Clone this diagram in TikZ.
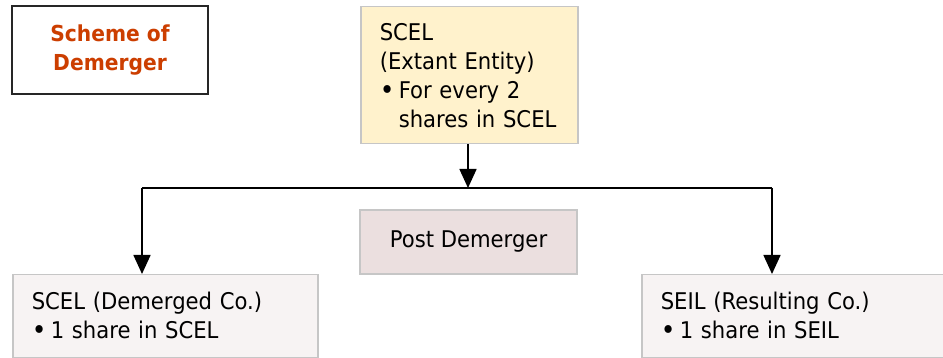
\documentclass[tikz,border=0pt]{standalone}
\usepackage{fontspec}
\setmainfont{DejaVu Sans}[FakeStretch=0.92]
\usepackage{tikz}
\usetikzlibrary{arrows.meta}
\usetikzlibrary{positioning}
\definecolor{schemered}{HTML}{CC3E00}
\definecolor{extantfill}{HTML}{FFF2CC}
\definecolor{postfill}{HTML}{EBDFDF}
\definecolor{cofill}{HTML}{F7F3F3}
\definecolor{boxline}{HTML}{C6C6C6}
\tikzstyle{cobox} = [rectangle, draw=boxline, line width=1.5pt,
    anchor=north west, align=left, inner xsep=19pt]
\tikzset{>={Triangle[length=19pt,width=17pt]}}
\newcommand{\bul}{\makebox[19pt][l]{\raisebox{-1pt}{\fontsize{27}{27}\selectfont\textbullet}}}

\begin{document}
\begin{tikzpicture}[x=1pt,y=-1pt,font=\fontsize{23}{29}\selectfont]
\useasboundingbox (0,0) rectangle (943,358);
\begin{scope}
    %title
    \node[rectangle, draw=black!85, line width=1.8pt, fill=white,
        minimum width=196pt, minimum height=88pt, align=center,
        text=schemered, font=\fontsize{22}{29}\selectfont\bfseries]
        (scheme) at (110,50) {Scheme of\\Demerger};
    %boxes
    \node[cobox, fill=extantfill, minimum width=217pt, minimum height=137pt,
        text width=179pt] (extant) at (360,6)
        {SCEL\\(Extant Entity)\\\bul For every 2\\\hspace*{19pt}shares in SCEL};
    \node[rectangle, draw=boxline, line width=1.5pt, fill=postfill,
        minimum width=217pt, minimum height=64pt]
        (post) at (468.5,242) {Post Demerger};
    \node[cobox, fill=cofill, minimum width=305pt, minimum height=83pt,
        text width=267pt] (demerged) at (12,274)
        {SCEL (Demerged Co.)\\\bul 1 share in SCEL};
    \node[cobox, fill=cofill, minimum width=305pt, minimum height=83pt,
        text width=267pt] (resulting) at (641,274)
        {SEIL (Resulting Co.)\\\bul 1 share in SEIL};
    %lines
    \coordinate (split) at (468,188);
    \coordinate (lt) at (142,188);
    \coordinate (rt) at (772,188);
    \draw[->, line width=1.6pt] (extant.south -| split) -- (split);
    \draw[line width=1.6pt] (lt) -- (rt);
    \draw[->, line width=1.6pt] (lt) -- (lt |- demerged.north);
    \draw[->, line width=1.6pt] (rt) -- (rt |- resulting.north);
\end{scope}
\end{tikzpicture}
\end{document}
